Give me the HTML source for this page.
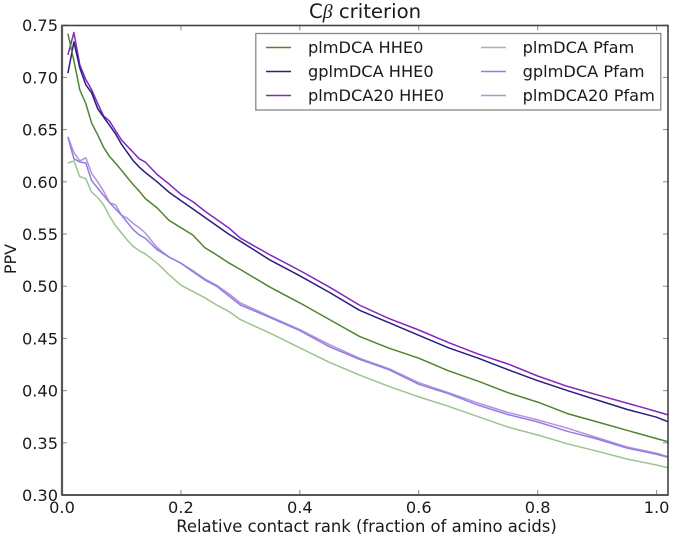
<!DOCTYPE html>
<html>
<head>
<meta charset="utf-8">
<style>
html,body{margin:0;padding:0;background:#fff;}
svg{display:block;}
text{font-family:"DejaVu Sans","Liberation Sans",sans-serif;fill:#1a1a1a;}
</style>
</head>
<body>
<svg id="chart" width="674" height="538" viewBox="0 0 674 538" xmlns="http://www.w3.org/2000/svg">
  <rect x="0" y="0" width="674" height="538" fill="#fff"/>
  <g id="marks"></g>
  <g id="ticks"></g>
  <rect x="62" y="25.5" width="606" height="469.5" fill="none" stroke="#444" stroke-width="1.6"/>
  <line x1="62" y1="25" x2="62" y2="495" stroke="#555" stroke-width="2.2"/>
  <line x1="62" y1="495" x2="668" y2="495" stroke="#555" stroke-width="2"/>
  <text x="309" y="18" font-size="19.7">C<tspan style="font-family:'Liberation Serif',serif;font-style:italic">β</tspan> criterion</text>
  <text transform="translate(16,259) rotate(-90)" text-anchor="middle" font-size="16">PPV</text>
  <text x="366.5" y="532" text-anchor="middle" font-size="16.4">Relative contact rank (fraction of amino acids)</text>
  <g id="legend">
    <rect x="255.8" y="33.5" width="405" height="76.5" fill="#fff" stroke="#888" stroke-width="1.3"/>
  </g>
</svg>
<script>
var contactRank = [0.01,0.02,0.03,0.04,0.05,0.06,0.07,0.08,0.09,0.10,0.11,0.12,0.13,0.14,0.16,0.18,0.20,0.22,0.24,0.26,0.28,0.30,0.35,0.40,0.45,0.50,0.55,0.60,0.65,0.70,0.75,0.80,0.85,0.90,0.95,1.00,1.02];
var plmHHE0 = [0.742,0.716,0.688,0.675,0.656,0.645,0.633,0.624,0.618,0.611,0.604,0.597,0.591,0.584,0.575,0.563,0.556,0.549,0.537,0.530,0.5225,0.516,0.499,0.484,0.468,0.452,0.4406,0.431,0.419,0.409,0.398,0.389,0.378,0.370,0.362,0.354,0.351];
var gplmHHE0 = [0.704,0.734,0.709,0.693,0.685,0.670,0.662,0.654,0.646,0.636,0.628,0.620,0.614,0.609,0.600,0.590,0.582,0.574,0.566,0.558,0.550,0.543,0.525,0.510,0.494,0.477,0.465,0.453,0.441,0.431,0.420,0.4095,0.400,0.391,0.382,0.3745,0.370];
var plm20HHE0 = [0.7215,0.743,0.712,0.698,0.688,0.675,0.663,0.658,0.649,0.640,0.634,0.628,0.622,0.619,0.607,0.598,0.588,0.581,0.572,0.564,0.556,0.546,0.530,0.515,0.499,0.482,0.469,0.458,0.446,0.435,0.4255,0.414,0.404,0.396,0.388,0.380,0.3766];
var plmPfam = [0.618,0.620,0.605,0.603,0.590,0.585,0.578,0.567,0.558,0.551,0.544,0.538,0.534,0.531,0.522,0.511,0.501,0.495,0.489,0.482,0.476,0.468,0.455,0.441,0.427,0.415,0.404,0.394,0.385,0.375,0.365,0.3575,0.349,0.342,0.3345,0.3287,0.326];
var gplmPfam = [0.643,0.622,0.619,0.618,0.601,0.594,0.587,0.580,0.574,0.568,0.561,0.554,0.549,0.546,0.535,0.528,0.522,0.514,0.506,0.500,0.491,0.482,0.470,0.4575,0.442,0.430,0.420,0.406,0.397,0.386,0.377,0.370,0.361,0.3536,0.345,0.339,0.336];
var plm20Pfam = [0.643,0.628,0.620,0.623,0.608,0.600,0.591,0.580,0.578,0.568,0.565,0.560,0.556,0.551,0.537,0.528,0.522,0.515,0.507,0.501,0.493,0.484,0.471,0.4585,0.444,0.431,0.421,0.4076,0.398,0.388,0.379,0.372,0.364,0.355,0.346,0.340,0.3365];
var xTickValues = [0.0,0.2,0.4,0.6,0.8,1.0];
var yTickValues = [0.30,0.35,0.40,0.45,0.50,0.55,0.60,0.65,0.70,0.75];
var seriesLabels = ["plmDCA HHE0","gplmDCA HHE0","plmDCA20 HHE0","plmDCA Pfam","gplmDCA Pfam","plmDCA20 Pfam"];
var seriesValues = [plmHHE0,gplmHHE0,plm20HHE0,plmPfam,gplmPfam,plm20Pfam];
var seriesColors = ["#4f8530","#27207c","#8428c0","#9cc48c","#8a80e6","#bb90d8"];

var NS = "http://www.w3.org/2000/svg";
function xScale(v){ return 62 + v * 594.6; }
function yScale(v){ return 495 - (v - 0.30) * 1044; }
function make(tag, attrs, parent){
  var el = document.createElementNS(NS, tag);
  for (var k in attrs) { el.setAttribute(k, attrs[k]); }
  parent.appendChild(el);
  return el;
}
var marks = document.getElementById("marks");
var ticks = document.getElementById("ticks");
var legend = document.getElementById("legend");

for (var s = seriesValues.length - 1; s >= 0; s--) {
  var pts = seriesValues[s].map(function(v, j){ return xScale(contactRank[j]).toFixed(1) + "," + yScale(v).toFixed(1); }).join(" ");
  var line = make("polyline", {points: pts, fill: "none", stroke: seriesColors[s], "stroke-width": 1.5, "stroke-linejoin": "round"}, marks);
  
  
  line.setAttribute('aria-label', seriesLabels[s]);
}

xTickValues.forEach(function(v){
  var x = xScale(v);
  var t1 = make("line", {x1: x, x2: x, y1: 495, y2: 490, stroke: "#888", "stroke-width": 1}, ticks);
  
  
  var t2 = make("line", {x1: x, x2: x, y1: 25.5, y2: 30.5, stroke: "#888", "stroke-width": 1}, ticks);
  
  
  var lab = make("text", {x: x, y: 513, "text-anchor": "middle", "font-size": 16.2}, ticks);
  
  
  lab.textContent = v.toFixed(1);
});

yTickValues.forEach(function(v){
  var y = yScale(v);
  var t1 = make("line", {x1: 62, x2: 67, y1: y, y2: y, stroke: "#888", "stroke-width": 1}, ticks);
  
  
  var t2 = make("line", {x1: 663, x2: 668, y1: y, y2: y, stroke: "#888", "stroke-width": 1}, ticks);
  
  
  var lab = make("text", {x: 58, y: y + 6, "text-anchor": "end", "font-size": 16.2}, ticks);
  
  
  lab.textContent = v.toFixed(2);
});

seriesLabels.forEach(function(name, i){
  var col = i < 3 ? 0 : 1;
  var row = i % 3;
  var lx = col === 0 ? 266 : 481;
  var tx = col === 0 ? 308 : 522.6;
  var ly = 47.5 + row * 24;
  var sw = make("line", {x1: lx, x2: lx + 25, y1: ly, y2: ly, stroke: seriesColors[i], "stroke-width": 1.6}, legend);
  
  
  var tl = make("text", {x: tx, y: ly + 5.5, "font-size": 16.2}, legend);
  
  
  tl.textContent = name;
});
</script>
</body>
</html>
